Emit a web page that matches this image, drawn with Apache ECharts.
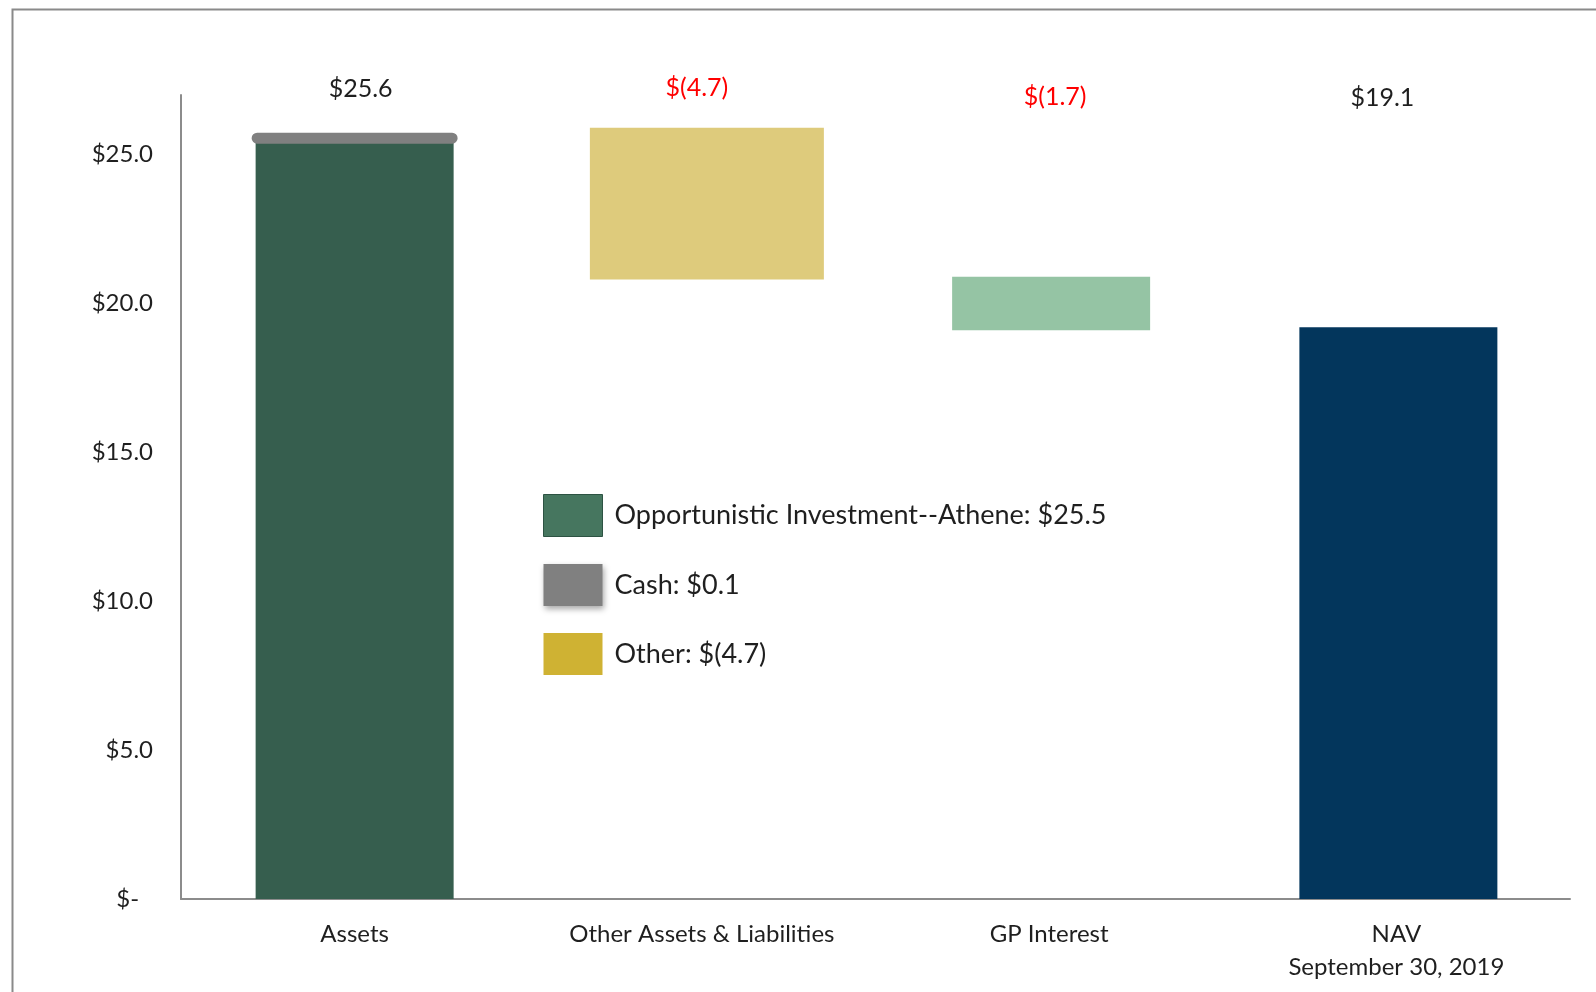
<!DOCTYPE html>
<html>
<head>
<meta charset="utf-8">
<title>NAV bridge</title>
<script src="https://cdn.jsdelivr.net/npm/echarts@6/dist/echarts.min.js"></script>
<style>
html, body { margin: 0; padding: 0; background: #fff; }
#chart { width: 1596px; height: 992px; }
</style>
</head>
<body>
<div id="chart"></div>
<script>
var categories = ["Assets", "Other Assets & Liabilities", "GP Interest", "NAV\nSeptember 30, 2019"];
// each bar is [category index, bottom, top]
var investBar = [[0, 0, 25.5]];
var cashBar = [[0, 25.5, 25.6]];
var otherBar = [[1, 20.8, 25.9]];
var gpBar = [[2, 19.1, 20.9]];
var navBar = [[3, 0, 19.2]];
var topLabels = ["$25.6", "$(4.7)", "$(1.7)", "$19.1"];
var legendNames = ["Opportunistic Investment--Athene: $25.5", "Cash: $0.1", "Other: $(4.7)"];

var font = "Lato";
var textColor = "#1f1f1f";

// bar drawn from the category centre, shifted like in the slide
function barRenderer(width, shift, color, extra) {
  return function (params, api) {
    var idx = api.value(0);
    var lo = api.coord([idx, api.value(1)]);
    var hi = api.coord([idx, api.value(2)]);
    var style = { fill: color };
    if (extra) {
      style.stroke = color;
      style.lineWidth = extra.lineWidth;
    }
    return {
      type: "rect",
      shape: {
        x: lo[0] + shift - width / 2,
        y: hi[1],
        width: width,
        height: lo[1] - hi[1],
        r: extra ? extra.r : 0
      },
      style: style
    };
  };
}

var labelDx = [6, -5, 6, -14];
var labelDy = [-6, -7, 2, 3];

var myChart = echarts.init(document.getElementById("chart"));
myChart.setOption({
  animation: false,
  backgroundColor: "#ffffff",
  textStyle: { fontFamily: font },
  graphic: [
    {
      type: "rect",
      left: 10,
      top: 7,
      shape: { width: 1700, height: 1100 },
      style: { fill: "none", stroke: "#8a8a8a", lineWidth: 2 },
      silent: true
    }
  ],
  grid: {
    left: 181,
    right: 26,
    top: 95,
    bottom: 93
  },
  legend: {
    orient: "vertical",
    left: 538,
    top: 489,
    itemWidth: 59,
    itemHeight: 42,
    itemGap: 27,
    icon: "rect",
    selectedMode: false,
    textStyle: {
      fontFamily: font,
      fontSize: 27,
      color: textColor,
      padding: [0, 0, 0, 7]
    },
    data: [
      { name: legendNames[0], itemStyle: { color: "#46765f", borderColor: "#2d5343", borderWidth: 1 } },
      {
        name: legendNames[1],
        itemStyle: {
          color: "#808080",
          shadowBlur: 6,
          shadowColor: "rgba(0,0,0,0.35)",
          shadowOffsetX: 1,
          shadowOffsetY: 3
        }
      },
      { name: legendNames[2], itemStyle: { color: "#cfb233" } }
    ]
  },
  xAxis: {
    type: "category",
    data: categories,
    axisLine: { lineStyle: { color: "#8c8c8c", width: 2 } },
    axisTick: { show: false },
    axisLabel: {
      fontFamily: font,
      fontSize: 24,
      color: textColor,
      margin: 19,
      lineHeight: 33
    }
  },
  yAxis: {
    type: "value",
    min: 0,
    max: 27,
    interval: 5,
    splitLine: { show: false },
    axisTick: { show: false },
    axisLine: { show: true, lineStyle: { color: "#8c8c8c", width: 2 } },
    axisLabel: {
      fontFamily: font,
      fontSize: 24,
      color: textColor,
      margin: 28,
      showMaxLabel: false,
      formatter: function (v) {
        return v === 0 ? "$-\u2007" : "$" + v.toFixed(1);
      }
    }
  },
  series: [
    {
      name: legendNames[0],
      type: "custom",
      itemStyle: { color: "#365e4e" },
      renderItem: barRenderer(198, 0, "#365e4e"),
      encode: { x: 0, y: [1, 2] },
      data: investBar
    },
    {
      name: legendNames[1],
      type: "custom",
      itemStyle: { color: "#808080" },
      renderItem: barRenderer(198, 0, "#808080", { lineWidth: 8, r: 4 }),
      encode: { x: 0, y: [1, 2] },
      data: cashBar
    },
    {
      name: legendNames[2],
      type: "custom",
      itemStyle: { color: "#decb7c" },
      renderItem: barRenderer(234, 5, "#decb7c"),
      encode: { x: 0, y: [1, 2] },
      data: otherBar
    },
    {
      name: "GP Interest",
      type: "custom",
      itemStyle: { color: "#95c4a4" },
      renderItem: barRenderer(198, 2, "#95c4a4"),
      encode: { x: 0, y: [1, 2] },
      data: gpBar
    },
    {
      name: "NAV",
      type: "custom",
      itemStyle: { color: "#03365c" },
      renderItem: barRenderer(198, 2, "#03365c"),
      encode: { x: 0, y: [1, 2] },
      data: navBar
    },
    {
      name: "labels",
      type: "custom",
      clip: false,
      renderItem: function (params, api) {
        var i = params.dataIndex;
        var p = api.coord([api.value(0), api.value(1)]);
        var txt = topLabels[i];
        return {
          type: "text",
          x: p[0] + labelDx[i],
          y: p[1] + labelDy[i],
          style: {
            text: txt,
            fill: txt.indexOf("(") >= 0 ? "#ff0000" : textColor,
            font: "25px " + font,
            textAlign: "center",
            textVerticalAlign: "middle"
          }
        };
      },
      encode: { x: 0, y: 1 },
      data: topLabels.map(function (t, i) { return [i, 27]; })
    }
  ]
});
</script>
</body>
</html>
